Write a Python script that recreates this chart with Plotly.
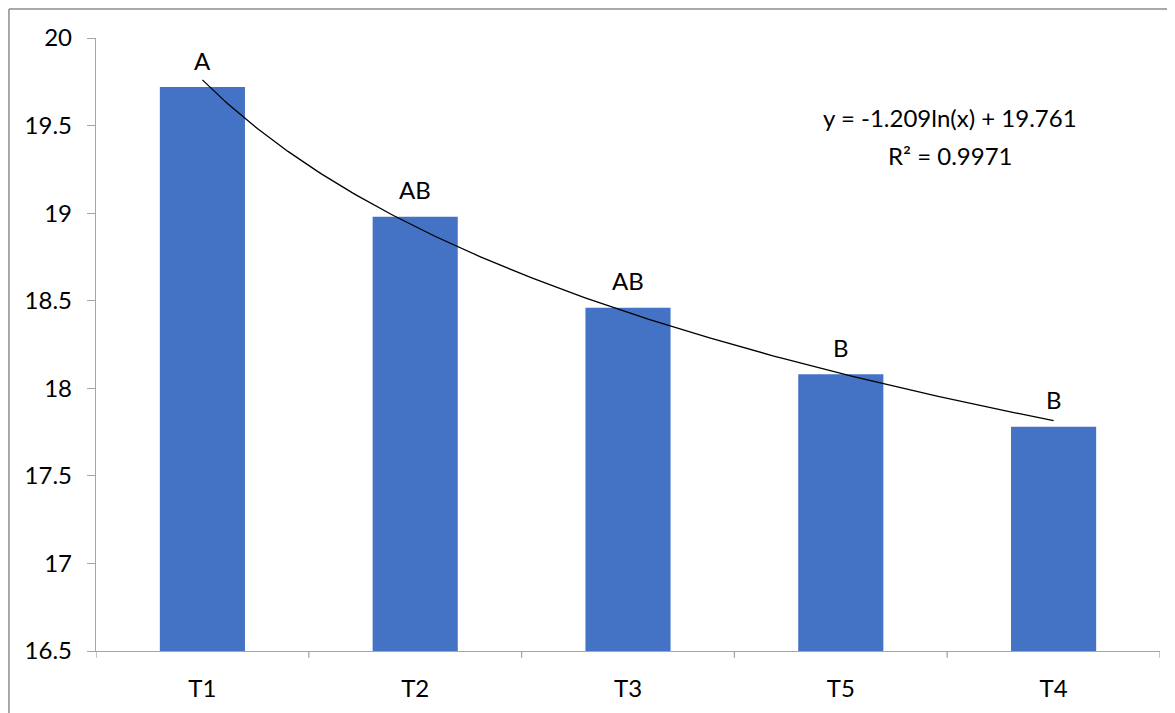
import numpy as np
import plotly.graph_objects as go

categories = ["T1", "T2", "T3", "T5", "T4"]
values = [19.72, 18.98, 18.46, 18.08, 17.78]
letters = ["A", "AB", "AB", "B", "B"]
trend_a = -1.209
trend_b = 19.761
r2 = 0.9971
y_ticks = [16.5, 17, 17.5, 18, 18.5, 19, 19.5, 20]

pos = list(range(len(categories)))
font = "Lato, 'Open Sans', sans-serif"
FS = 24

fig = go.Figure()
fig.add_trace(go.Bar(x=pos, y=values, width=0.4, marker=dict(color="#4472C4", line=dict(width=0)),
                     showlegend=False))

tx = np.linspace(1, len(categories), 200)
ty = trend_a * np.log(tx) + trend_b
fig.add_trace(go.Scatter(x=tx - 1, y=ty, mode="lines", line=dict(color="#000000", width=1.3),
                         showlegend=False, hoverinfo="skip"))

for p, v, t in zip(pos, values, letters):
    fig.add_annotation(x=p, y=v, xref="x", yref="y", text=t, showarrow=False, yshift=27,
                       xanchor="center", yanchor="middle",
                       font=dict(size=FS, color="#000000", family=font))

fig.add_annotation(x=0.803, y=0.8695, xref="paper", yref="paper", showarrow=False,
                   xanchor="center", yanchor="middle",
                   text=f"y = {trend_a}ln(x) + {trend_b}", font=dict(size=FS, color="#000000", family=font))
fig.add_annotation(x=0.803, y=0.809, xref="paper", yref="paper", showarrow=False,
                   xanchor="center", yanchor="middle",
                   text=f"R² = {r2}", font=dict(size=FS, color="#000000", family=font))

# outer chart border (top and left edges visible in the frame)
bx0, by1 = -0.0818, 1.0473
fig.add_shape(type="line", xref="paper", yref="paper", x0=bx0, x1=1.2, y0=by1, y1=by1,
              line=dict(color="#8c8c8c", width=1.5), layer="below")
fig.add_shape(type="line", xref="paper", yref="paper", x0=bx0, x1=bx0, y0=-0.2, y1=by1,
              line=dict(color="#8c8c8c", width=1.5), layer="below")

fig.update_layout(
    width=1167, height=705,
    margin=dict(l=88, r=15, t=30, b=62),
    plot_bgcolor="#ffffff", paper_bgcolor="#ffffff",
    font=dict(family=font, size=FS, color="#000000"),
    xaxis=dict(range=[-0.5, len(categories) - 0.5], tickvals=pos, ticktext=categories,
               showline=True, linecolor="#a6a6a6", linewidth=1.3, ticks="", showgrid=False,
               zeroline=False, tickfont=dict(size=FS, family=font), ticklabelstandoff=16),
    yaxis=dict(range=[16.5, 20], tickvals=y_ticks, ticktext=[f"{v:g}" for v in y_ticks],
               showline=True, linecolor="#a6a6a6", linewidth=1.3, ticks="outside", ticklen=8,
               tickcolor="#a6a6a6", showgrid=False, zeroline=False,
               tickfont=dict(size=FS, family=font), ticklabelstandoff=10),
)

for b in np.arange(-0.5, len(categories) - 0.5 + 0.01, 1.0):
    fig.add_shape(type="line", xref="x", yref="paper", x0=b, x1=b, y0=0, y1=-0.011,
                  line=dict(color="#a6a6a6", width=1.3))

fig.write_html("out.html")
